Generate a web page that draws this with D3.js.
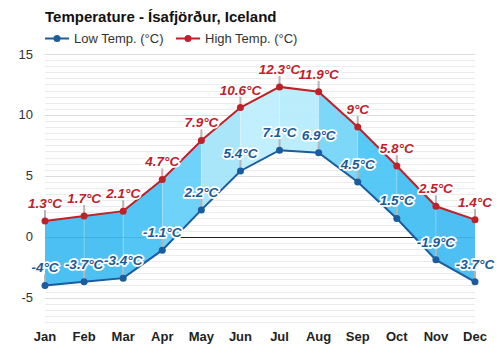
<!DOCTYPE html>
<html><head><meta charset="utf-8">
<script src="https://cdn.jsdelivr.net/npm/d3@7"></script>
<style>body{margin:0;background:#fff}svg{display:block;font-family:"Liberation Sans",Arial,sans-serif}</style>
</head><body><svg id="c" width="500" height="350"></svg>
<script>
const months = ["Jan","Feb","Mar","Apr","May","Jun","Jul","Aug","Sep","Oct","Nov","Dec"];
const highTemps = [1.3,1.7,2.1,4.7,7.9,10.6,12.3,11.9,9,5.8,2.5,1.4];
const lowTemps = [-4,-3.7,-3.4,-1.1,2.2,5.4,7.1,6.9,4.5,1.5,-1.9,-3.7];
const yTicks = [-5,0,5,10,15];
const titleText = "Temperature - Ísafjörður, Iceland";
const seriesNames = ["Low Temp. (°C)","High Temp. (°C)"];

const svg = d3.select("#c");
const x = d3.scalePoint().domain(months).range([45,475]);
const y = d3.scaleLinear().domain([-7,15]).range([322,54]);
const red = "#bf2129", blue = "#1a5c9e";

// grid
const minor = d3.range(-7,15.01,0.5);
svg.append("g").selectAll("line").data(minor).join("line")
  .attr("x1",45).attr("x2",475).attr("y1",d=>Math.round(y(d))+0.5).attr("y2",d=>Math.round(y(d))+0.5)
  .attr("stroke",d=>d%5===0?"#dcdcdc":"#ececec").attr("stroke-width",1);

// zero line
svg.append("line").attr("x1",45).attr("x2",475).attr("y1",Math.round(y(0))+0.5).attr("y2",Math.round(y(0))+0.5)
  .attr("stroke","#222").attr("stroke-width",1);

// fill bands
const col = d3.scaleLinear().domain([1.5,5.8,9,10.6,12.3])
  .range(["#3fbaf2","#4ac5f5","#72d4f8","#a4e4fa","#bdeefd"]);
const area = d3.area().x(d=>x(d.m)).y0(d=>y(d.lo)).y1(d=>y(d.hi));
for(let i=0;i<11;i++){
  const seg=[{m:months[i],lo:lowTemps[i],hi:highTemps[i]},{m:months[i+1],lo:lowTemps[i+1],hi:highTemps[i+1]}];
  svg.append("path").attr("d",area(seg)).attr("fill",col(highTemps[i+1])).attr("fill-opacity",0.93);
}
// faint vertical month lines within fill
svg.append("g").selectAll("line").data(months.slice(1,11)).join("line")
  .attr("x1",d=>x(d)).attr("x2",d=>x(d))
  .attr("y1",(d,i)=>y(highTemps[i+1])).attr("y2",(d,i)=>y(lowTemps[i+1]))
  .attr("stroke","#fff").attr("stroke-opacity",0.25).attr("stroke-width",1);

// label ticks
function ticks(vals){
  svg.append("g").selectAll("line").data(vals).join("line")
    .attr("x1",(d,i)=>x(months[i])).attr("x2",(d,i)=>x(months[i]))
    .attr("y1",d=>y(d)).attr("y2",d=>y(d)-11)
    .attr("stroke","#b5b5b5").attr("stroke-width",2);
}
ticks(highTemps); ticks(lowTemps);

// lines
const line = d3.line().x((d,i)=>x(months[i])).y(d=>y(d));
svg.append("path").attr("d",line(lowTemps)).attr("fill","none").attr("stroke",blue).attr("stroke-width",2);
svg.append("path").attr("d",line(highTemps)).attr("fill","none").attr("stroke",red).attr("stroke-width",2);
svg.append("g").selectAll("circle").data(lowTemps).join("circle")
  .attr("cx",(d,i)=>x(months[i])).attr("cy",d=>y(d)).attr("r",3.5).attr("fill",blue);
svg.append("g").selectAll("circle").data(highTemps).join("circle")
  .attr("cx",(d,i)=>x(months[i])).attr("cy",d=>y(d)).attr("r",3.5).attr("fill",red);

// value labels
function labels(vals,color){
  const g=svg.append("g").attr("font-size",13.5).attr("font-weight","bold").attr("font-style","italic").attr("text-anchor","middle");
  g.selectAll("text.h").data(vals).join("text")
    .attr("x",(d,i)=>x(months[i])).attr("y",d=>y(d)-13)
    .attr("fill","none").attr("stroke","#fff").attr("stroke-width",3.5).attr("stroke-linejoin","round")
    .text(d=>d+"°C");
  g.selectAll("text.t").data(vals).join("text")
    .attr("x",(d,i)=>x(months[i])).attr("y",d=>y(d)-13)
    .attr("fill",color).text(d=>d+"°C");
}
labels(highTemps,"#c0202a");
labels(lowTemps,"#1a5a98");

// axes labels
svg.append("g").selectAll("text").data(yTicks).join("text")
  .attr("x",33).attr("y",d=>y(d)+4.5).attr("text-anchor","end")
  .attr("font-size",13).attr("fill","#333").text(d=>d);
svg.append("g").selectAll("text").data(months).join("text")
  .attr("x",d=>x(d)).attr("y",341).attr("text-anchor","middle")
  .attr("font-size",13).attr("font-weight","bold").attr("fill","#222").text(d=>d);

// title
svg.append("text").attr("x",45).attr("y",22).attr("font-size",15).attr("font-weight","bold").attr("fill","#111").text(titleText);

// legend
const leg=[{n:seriesNames[0],c:blue,x:45},{n:seriesNames[1],c:red,x:176}];
leg.forEach(l=>{
  svg.append("line").attr("x1",l.x).attr("x2",l.x+24).attr("y1",38.5).attr("y2",38.5).attr("stroke",l.c).attr("stroke-width",2);
  svg.append("circle").attr("cx",l.x+12).attr("cy",38.5).attr("r",3.5).attr("fill",l.c);
  svg.append("text").attr("x",l.x+29).attr("y",43).attr("font-size",13).attr("fill","#333").text(l.n);
});
</script></body></html>
